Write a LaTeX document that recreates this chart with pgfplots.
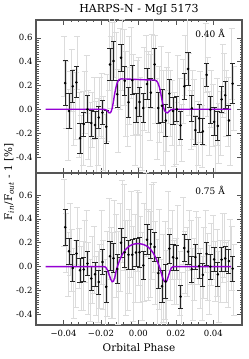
\documentclass[border=0pt]{standalone}
\usepackage{fontspec}
\setmainfont{DejaVu Serif}
\usepackage{pgfplots}
\pgfplotsset{compat=1.18}
\definecolor{model}{HTML}{9400D3}
\definecolor{lightgr}{HTML}{DCDCDC}
\definecolor{framec}{HTML}{555555}

\pgfplotsset{
  panel/.style={
    scale only axis, width=206pt,
    xmin=-0.0547, xmax=0.0553,
    scaled x ticks=false, scaled y ticks=false,
    xtick={-0.04,-0.02,0,0.02,0.04}, minor x tick num=4,
    ytick={-0.4,-0.2,0,0.2,0.4,0.6}, minor y tick num=9,
    yticklabels={-0.4,-0.2,0.0,0.2,0.4,0.6},
    tick align=inside, xtick pos=both, ytick pos=both,
    major tick length=5pt, minor tick length=2.5pt,
    every tick/.style={framec, line width=0.6pt},
    axis line style={framec, line width=1.2pt},
    tick label style={font=\fontsize{8.5}{9}\selectfont},
    xticklabel style={yshift=-1.5pt},
    label style={font=\fontsize{10.5}{12}\selectfont},
  },
  graybars/.style={draw=none, mark=none,
    error bars/.cd, y dir=both, y explicit,
    error bar style={draw=lightgr, line width=0.6pt, solid},
    error mark options={rotate=90, draw=lightgr, mark size=3pt, line width=0.6pt}},
  binbars/.style={only marks, mark=*, mark size=1.1pt, black,
    error bars/.cd, y dir=both, y explicit,
    error bar style={draw=black!85, line width=0.9pt},
    error mark options={rotate=90, draw=black!85, mark size=2.6pt, line width=0.9pt}},
  modelline/.style={no markers, model, line width=1.4pt},
}

\begin{document}
\begin{tikzpicture}
\useasboundingbox (0pt,0pt) rectangle (249pt,359pt);

% ---------------- top panel ----------------
\begin{axis}[panel, at={(36pt,186pt)}, anchor=south west, height=153pt,
  ymin=-0.535, ymax=0.75, xticklabels={}]
\addplot[graybars] table[x index=0, y index=1, y error index=2] {
-0.0396 0.36 0.25
-0.0386 0.12 0.28
-0.0376 -0.13 0.30
-0.0366 0.08 0.24
-0.0356 0.24 0.26
-0.0346 0.02 0.32
-0.0336 0.03 0.28
-0.0326 0.39 0.22
-0.0317 -0.13 0.27
-0.0307 -0.30 0.25
-0.0297 -0.16 0.31
-0.0287 0.06 0.26
-0.0277 0.21 0.24
-0.0267 -0.13 0.29
-0.0257 -0.21 0.27
-0.0247 -0.09 0.23
-0.0237 0.01 0.26
-0.0227 -0.23 0.30
-0.0217 -0.19 0.28
-0.0207 0.02 0.25
-0.0197 0.03 0.27
-0.0187 -0.20 0.31
-0.0177 -0.34 0.30
-0.0167 0.01 0.28
-0.0157 0.49 0.33
-0.0147 0.31 0.30
-0.0138 0.37 0.36
-0.0128 0.59 0.32
-0.0118 0.34 0.31
-0.0108 -0.01 0.35
-0.0098 0.34 0.34
-0.0088 0.46 0.30
-0.0078 0.35 0.32
-0.0068 0.13 0.36
-0.0058 0.02 0.33
-0.0048 0.24 0.37
-0.0038 0.39 0.30
-0.0028 0.12 0.34
-0.0018 -0.11 0.36
-0.0008 0.10 0.31
0.0001 0.11 0.33
0.0011 -0.11 0.38
0.0021 -0.19 0.32
0.0031 0.17 0.35
0.0041 0.32 0.30
0.0051 0.15 0.34
0.0061 0.10 0.36
0.0071 0.32 0.31
0.0081 0.59 0.33
0.0091 0.25 0.37
0.0101 -0.08 0.34
0.0111 0.04 0.32
0.0121 0.17 0.36
0.0131 -0.07 0.40
0.0141 -0.22 0.38
0.0151 0.00 0.35
0.0160 0.18 0.30
0.0170 0.05 0.28
0.0180 -0.03 0.27
0.0190 -0.17 0.31
0.0200 -0.20 0.26
0.0210 0.16 0.29
0.0220 -0.02 0.28
0.0230 -0.20 0.24
0.0240 0.15 0.27
0.0250 0.37 0.25
0.0260 0.55 0.30
0.0270 0.21 0.26
0.0280 -0.09 0.25
0.0290 0.04 0.29
0.0299 -0.03 0.28
0.0309 -0.29 0.24
0.0319 -0.20 0.27
0.0329 0.02 0.30
0.0339 -0.23 0.26
0.0349 -0.02 0.28
0.0359 0.43 0.29
0.0369 0.19 0.25
0.0379 -0.12 0.27
0.0389 0.09 0.24
0.0399 -0.05 0.26
0.0409 -0.28 0.30
0.0419 -0.02 0.28
0.0429 -0.20 0.25
0.0439 -0.12 0.27
0.0449 0.24 0.31
0.0458 0.22 0.25
0.0468 0.05 0.28
0.0478 -0.02 0.29
0.0488 -0.21 0.26
0.0498 0.38 0.30
0.0508 0.09 0.27
};
\addplot[binbars] table[x index=0, y index=1, y error index=2] {
-0.0391 0.220 0.190
-0.0371 -0.014 0.148
-0.0351 0.193 0.134
-0.0331 0.226 0.130
-0.0312 -0.243 0.124
-0.0292 -0.124 0.100
-0.0272 0.000 0.113
-0.0252 -0.116 0.110
-0.0232 -0.132 0.110
-0.0212 -0.069 0.092
-0.0192 -0.028 0.103
-0.0172 -0.146 0.140
-0.0152 0.377 0.137
-0.0133 0.405 0.166
-0.0113 0.127 0.113
-0.0093 0.433 0.113
-0.0073 0.240 0.120
-0.0053 0.060 0.127
-0.0033 0.245 0.124
-0.0013 0.011 0.120
0.0006 0.061 0.125
0.0026 0.011 0.118
0.0046 0.212 0.130
0.0066 0.140 0.122
0.0086 0.377 0.135
0.0106 0.011 0.128
0.0126 0.030 0.140
0.0146 -0.095 0.135
0.0165 0.132 0.120
0.0185 -0.014 0.110
0.0205 0.000 0.105
0.0225 -0.135 0.115
0.0245 0.193 0.110
0.0265 0.339 0.135
0.0285 0.008 0.112
0.0304 -0.174 0.118
0.0324 -0.077 0.120
0.0344 -0.185 0.110
0.0364 0.289 0.100
0.0384 -0.003 0.115
0.0404 -0.105 0.118
0.0424 -0.140 0.120
0.0444 0.083 0.110
0.0463 0.118 0.115
0.0483 -0.094 0.125
0.0503 0.215 0.170
};
\addplot[modelline] coordinates {
(-0.0495,0) (-0.0190,0) (-0.0175,-0.002) (-0.0165,-0.015) (-0.0158,-0.028)
(-0.0152,-0.030) (-0.0146,-0.020) (-0.0140,0.010) (-0.0134,0.060)
(-0.0128,0.120) (-0.0122,0.170) (-0.0116,0.210) (-0.0110,0.235)
(-0.0104,0.248) (-0.0098,0.253) (-0.0090,0.255) (-0.0060,0.254)
(-0.0030,0.252) (0.0000,0.250) (0.0030,0.248) (0.0060,0.247)
(0.0085,0.246) (0.0095,0.240) (0.0103,0.225) (0.0110,0.195)
(0.0116,0.160) (0.0122,0.110) (0.0128,0.060) (0.0134,0.015)
(0.0140,-0.012) (0.0147,-0.026) (0.0154,-0.030) (0.0161,-0.022)
(0.0168,-0.010) (0.0176,-0.002) (0.0190,0) (0.0495,0)
};
\node[font=\fontsize{9}{10}\selectfont] at (rel axis cs:0.845,0.912) {0.40 Å};
\end{axis}

% ---------------- bottom panel ----------------
\begin{axis}[panel, at={(36pt,34pt)}, anchor=south west, height=152pt,
  ymin=-0.49, ymax=0.785,
  xticklabels={−0.04,−0.02,0.00,0.02,0.04},
  xlabel={Orbital Phase}]
\addplot[graybars] table[x index=0, y index=1, y error index=2] {
-0.0396 0.45 0.28
-0.0386 0.20 0.25
-0.0376 0.02 0.27
-0.0366 0.23 0.30
-0.0356 0.05 0.26
-0.0346 -0.14 0.29
-0.0336 -0.06 0.28
-0.0326 0.26 0.24
-0.0317 0.07 0.25
-0.0307 -0.10 0.27
-0.0297 -0.08 0.29
-0.0287 0.13 0.26
-0.0277 0.20 0.27
-0.0267 -0.10 0.30
-0.0257 -0.20 0.26
-0.0247 -0.03 0.28
-0.0237 0.06 0.28
-0.0227 -0.16 0.25
-0.0217 -0.17 0.30
-0.0207 -0.08 0.27
-0.0197 0.16 0.31
-0.0187 -0.07 0.29
-0.0177 -0.27 0.33
-0.0167 -0.06 0.36
-0.0157 0.23 0.34
-0.0147 -0.05 0.38
-0.0138 -0.07 0.36
-0.0128 0.23 0.33
-0.0118 0.09 0.35
-0.0108 -0.09 0.39
-0.0098 0.16 0.37
-0.0088 0.38 0.34
-0.0078 0.33 0.36
-0.0068 -0.01 0.40
-0.0058 0.01 0.38
-0.0048 0.13 0.35
-0.0038 0.27 0.36
-0.0028 -0.06 0.40
-0.0018 0.07 0.37
-0.0008 0.30 0.34
0.0001 0.23 0.39
0.0011 0.06 0.36
0.0021 -0.08 0.37
0.0031 0.12 0.41
0.0041 0.44 0.35
0.0051 0.10 0.38
0.0061 0.10 0.36
0.0071 0.29 0.40
0.0081 0.33 0.38
0.0091 0.03 0.35
0.0101 -0.16 0.39
0.0111 0.06 0.42
0.0121 -0.34 0.40
0.0131 -0.10 0.37
0.0141 -0.03 0.41
0.0151 -0.24 0.38
0.0160 0.30 0.33
0.0170 0.02 0.30
0.0180 0.18 0.29
0.0190 -0.05 0.27
0.0200 -0.04 0.28
0.0210 0.20 0.31
0.0220 -0.14 0.27
0.0230 -0.35 0.30
0.0240 0.30 0.28
0.0250 0.04 0.26
0.0260 0.04 0.29
0.0270 0.22 0.25
0.0280 0.12 0.27
0.0290 -0.15 0.30
0.0299 -0.02 0.26
0.0309 0.18 0.28
0.0319 0.13 0.28
0.0329 -0.10 0.25
0.0339 -0.18 0.27
0.0349 0.03 0.30
0.0359 0.21 0.26
0.0369 0.00 0.28
0.0379 -0.11 0.29
0.0389 0.10 0.26
0.0399 0.16 0.27
0.0409 -0.04 0.25
0.0419 0.03 0.28
0.0429 -0.17 0.30
0.0439 -0.04 0.26
0.0449 0.16 0.29
0.0458 0.18 0.27
0.0468 -0.05 0.25
0.0478 -0.06 0.28
0.0488 0.14 0.26
0.0498 0.07 0.27
0.0508 -0.11 0.30
};
\addplot[binbars] table[x index=0, y index=1, y error index=2] {
-0.0391 0.330 0.150
-0.0371 0.128 0.110
-0.0351 -0.012 0.110
-0.0331 0.110 0.108
-0.0312 -0.030 0.100
-0.0292 -0.024 0.100
-0.0272 0.026 0.102
-0.0252 -0.100 0.100
-0.0232 -0.064 0.100
-0.0212 -0.130 0.100
-0.0192 0.038 0.105
-0.0172 -0.170 0.130
-0.0152 0.087 0.120
-0.0133 0.070 0.120
-0.0113 -0.020 0.125
-0.0093 0.200 0.120
-0.0073 0.120 0.125
-0.0053 0.100 0.120
-0.0033 0.100 0.125
-0.0013 0.118 0.120
0.0006 0.120 0.125
0.0026 0.010 0.120
0.0046 0.225 0.125
0.0066 0.190 0.120
0.0086 0.165 0.125
0.0106 -0.055 0.130
0.0126 -0.165 0.135
0.0146 -0.125 0.140
0.0165 0.150 0.120
0.0185 0.078 0.110
0.0205 0.070 0.105
0.0225 -0.252 0.095
0.0245 0.156 0.110
0.0265 0.125 0.105
0.0285 -0.022 0.110
0.0304 0.080 0.105
0.0324 0.004 0.105
0.0344 -0.070 0.100
0.0364 0.106 0.100
0.0384 0.000 0.105
0.0404 0.060 0.100
0.0424 -0.065 0.100
0.0444 0.058 0.100
0.0463 0.068 0.105
0.0483 0.045 0.100
0.0503 -0.018 0.105
};
\addplot[modelline] coordinates {
(-0.0495,0) (-0.0185,0) (-0.0175,-0.005) (-0.0165,-0.030) (-0.0155,-0.075)
(-0.0147,-0.110) (-0.0140,-0.127) (-0.0133,-0.122) (-0.0126,-0.090)
(-0.0120,-0.045) (-0.0114,-0.008) (-0.0108,0.020) (-0.0100,0.055)
(-0.0090,0.090) (-0.0080,0.118) (-0.0070,0.140) (-0.0060,0.157)
(-0.0050,0.170) (-0.0040,0.179) (-0.0030,0.186) (-0.0020,0.190)
(-0.0010,0.192) (0.0000,0.192) (0.0010,0.191) (0.0020,0.188)
(0.0030,0.183) (0.0040,0.176) (0.0050,0.166) (0.0060,0.152)
(0.0070,0.134) (0.0080,0.111) (0.0090,0.082) (0.0100,0.046)
(0.0108,0.015) (0.0115,-0.015) (0.0122,-0.055) (0.0130,-0.098)
(0.0138,-0.124) (0.0145,-0.130) (0.0152,-0.118) (0.0160,-0.080)
(0.0168,-0.038) (0.0176,-0.010) (0.0185,0) (0.0495,0)
};
\node[font=\fontsize{9}{10}\selectfont] at (rel axis cs:0.845,0.885) {0.75 Å};
\end{axis}

\node[font=\fontsize{11}{12}\selectfont] at (139pt,349pt) {HARPS-N - MgI 5173};
\node[rotate=90, font=\fontsize{10.5}{12}\selectfont] at (9pt,177pt)
  {F\textsubscript{\textit{in}}/F\textsubscript{\textit{out}} - 1 [\%]};
\end{tikzpicture}
\end{document}
